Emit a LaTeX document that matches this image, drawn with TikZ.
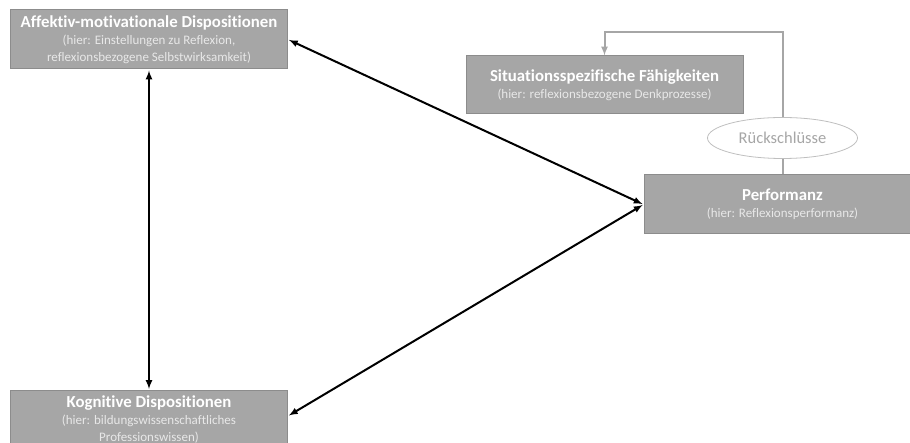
\documentclass[tikz,border=0pt]{standalone}
\usepackage{fontspec}
\setmainfont{Carlito}[Ligatures=NoCommon]
\usetikzlibrary{positioning}
\usetikzlibrary{shapes.geometric}

\definecolor{boxgray}{HTML}{A6A6A6}
\definecolor{boxline}{HTML}{8C8C8C}
\definecolor{subtext}{HTML}{E8E8E8}
\definecolor{loopgray}{HTML}{A6A6A6}
\definecolor{ovalgray}{HTML}{BFBFBF}

\newcommand{\boxtitle}[1]{{\bfseries\fontsize{16.8}{18}\selectfont #1}}
\newcommand{\boxsub}[1]{{\color{subtext}#1}}

\begin{document}
\begin{tikzpicture}[x=1pt, y=-1pt]
      \tikzstyle{box} =  [draw=boxline, line width=1pt, fill=boxgray, text=white, align=center, minimum width=277pt, minimum height=59pt, inner sep=2pt, font=\fontsize{13}{17}\selectfont]
      \tikzstyle{link} =  [<->, >=latex, line width=2pt, black, shorten <=1pt, shorten >=1pt]
      \tikzstyle{feedback} =  [->, >=latex, line width=2pt, loopgray]

      \useasboundingbox (0,0) rectangle (910,443);
      \clip (0,0) rectangle (910,443);

      \node (affektiv) [box] at (149,39.5) {\boxtitle{Affektiv-motivationale Dispositionen}\\\boxsub{(hier: Einstellungen zu Reflexion,}\\\boxsub{reflexionsbezogene Selbstwirksamkeit)}};
      \node (kognitiv) [box, anchor=north] at (149,390) {\boxtitle{Kognitive Dispositionen}\\\boxsub{(hier: bildungswissenschaftliches}\\\boxsub{Professionswissen)}};
      \node (situation) [box, minimum height=58pt] at (604.5,85) {\boxtitle{Situationsspezifische Fähigkeiten}\\\boxsub{(hier: reflexionsbezogene Denkprozesse)}};
      \node (performanz) [box] at (782.5,204.5) {\boxtitle{Performanz}\\\boxsub{(hier: Reflexionsperformanz)}};

      \draw [link] (affektiv.south) -- (kognitiv.north);
      \draw [link] (affektiv.east) -- (performanz.west);
      \draw [link] (kognitiv.east |- 0,416) -- (performanz.west);

      \draw [feedback] (performanz.north) -- ++(0,-142) -| (situation.north);
      \node (rueckschluesse) [ellipse, draw=ovalgray, line width=0.8pt, fill=white, text=loopgray, minimum width=150pt, minimum height=41pt, inner sep=0pt, font=\fontsize{16.5}{18}\selectfont] at (782.5,138) {Rückschlüsse};
    \end{tikzpicture}
\end{document}
